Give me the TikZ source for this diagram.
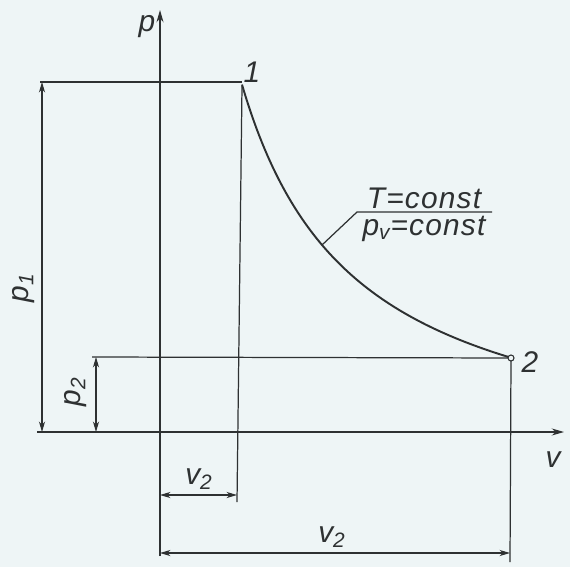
\documentclass[tikz,border=0pt]{standalone}
\usepackage{fontspec}
\setmainfont{Liberation Sans}[LetterSpace=4]
\usetikzlibrary{arrows.meta}
\definecolor{paper}{HTML}{EEF5F6}
\definecolor{ink}{HTML}{2E3132}
\tikzset{
  ln/.style={draw=ink, line width=0.7pt},
  axis/.style={ln, -{Stealth[length=7pt,width=4pt]}},
  dim/.style={draw=ink, line width=0.6pt, {Stealth[length=6pt,width=3.5pt]}-{Stealth[length=6pt,width=3.5pt]}},
  curve/.style={draw=ink, line width=1.1pt},
  lbl/.style={text=ink, font=\fontsize{17}{20}\selectfont\itshape, inner sep=1pt}
}
\begin{document}
\begin{tikzpicture}[x=0.02cm, y=-0.02cm]
\fill[paper] (0,0) rectangle (570,567);
\useasboundingbox (0,0) rectangle (570,567);
% key points
\coordinate (O) at (160,432);
\coordinate (P1) at (242,86);
\coordinate (P2) at (511,358);
\coordinate (ptop) at (160,10);
\coordinate (pbot) at (160,556);
\coordinate (vleft) at (37,432);
\coordinate (vright) at (564,432);
\coordinate (h1left) at (40,82);
\coordinate (P1e) at (242,82);
\coordinate (v1bot) at (237,502);
\coordinate (h2left) at (92,357);
\coordinate (v2bot) at (510,562);
\coordinate (d1a) at (42,82);
\coordinate (d1b) at (42,432);
\coordinate (d2a) at (96,357);
\coordinate (d2b) at (96,432);
\coordinate (d3a) at (160,495);
\coordinate (d3b) at (237,495);
\coordinate (d4a) at (160,553);
\coordinate (d4b) at (510,553);
\coordinate (lead0) at (322,245);
\coordinate (lead1) at (357,212);
\coordinate (lead2) at (492,212);
% axes
\draw[axis] (pbot) -- (ptop);
\draw[axis] (vleft) -- (vright);
% extension lines
\draw[ln] (h1left) -- (P1e);
\draw[ln] (P1) -- (v1bot);
\draw[ln] (h2left) -- (P2);
\draw[ln] (P2) -- (v2bot);
% dimensions
\draw[dim] (d1a) -- (d1b);
\draw[dim] (d2a) -- (d2b);
\draw[dim] (d3a) -- (d3b);
\draw[dim] (d4a) -- (d4b);
% isotherm p = 44338/(v+32) - 41.5 (pixel units, origin O)
\draw[curve] plot[domain=82:351, samples=80, smooth]
  ({160+\x}, {432-(443.38/((\x+32)/100)-41.5)});
\draw[ln] (lead0) -- (lead1) -- (lead2);
\draw[ink, fill=paper, line width=0.6pt] (P2) circle (3);
% labels
\node[lbl] (lp) at (147,27) {p};
\node[lbl] (lv) at (553,460) {v};
\node[lbl] (l1) at (252,72) {1};
\node[lbl] (l2) at (530,362) {2};
\node[lbl, rotate=90] (lp1) at (24,288) {p\textsubscript{1}};
\node[lbl, rotate=90] (lp2) at (76,392) {p\textsubscript{2}};
\node[lbl] (lv1) at (199,479) {v\textsubscript{2}};
\node[lbl] (lv2) at (332,537) {v\textsubscript{2}};
\node[lbl, anchor=south] (lT) at (424,211) {T=const};
\node[lbl, anchor=north] (lpv) at (424,214) {p\textsubscript{v}=const};
\end{tikzpicture}
\end{document}
